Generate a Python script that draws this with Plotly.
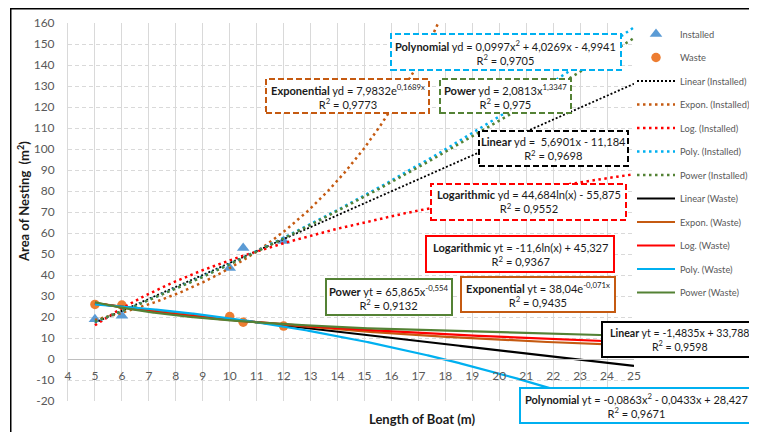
import numpy as np
import plotly.graph_objects as go

# ---------------- data ----------------
boat_length_installed = [5, 6, 10, 10.5, 12]
area_installed = [18.9, 20.6, 43.3, 52.9, 56.2]
boat_length_waste = [5, 6, 10, 10.5, 12]
area_waste = [26.0, 25.7, 20.2, 17.5, 15.7]

x_ticks = list(range(4, 26))
y_ticks = list(range(-20, 161, 10))

# trendline coefficients as printed on the chart
lin_inst = [5.6901, -11.184]
exp_inst = [7.9832, 0.1689]
log_inst = [44.684, -55.875]
poly_inst = [0.0997, 4.0269, -4.9941]
pow_inst = [2.0813, 1.3347]
lin_waste = [-1.4835, 33.788]
exp_waste = [38.04, -0.071]
log_waste = [-11.6, 45.327]
poly_waste = [-0.0863, -0.0433, 28.427]
pow_waste = [65.865, -0.554]
trend_x_range = [5, 25]

eq_texts = [
    "<b>Exponential</b> yd = 7,9832e<sup>0,1689x</sup><br>R<sup>2</sup> = 0,9773",
    "<b>Polynomial</b> yd = 0,0997x<sup>2</sup> + 4,0269x - 4,9941<br>R<sup>2</sup> = 0,9705",
    "<b>Power</b> yd = 2,0813x<sup>1,3347</sup><br>R<sup>2</sup> = 0,975",
    "<b>Linear</b> yd =  5,6901x - 11,184<br>R<sup>2</sup> = 0,9698",
    "<b>Logarithmic</b> yd = 44,684ln(x) - 55,875<br>R<sup>2</sup> = 0,9552",
    "<b>Logarithmic</b> yt = -11,6ln(x) + 45,327<br>R<sup>2</sup> = 0,9367",
    "<b>Power</b> yt = 65,865x<sup>-0,554</sup><br>R<sup>2</sup> = 0,9132",
    "<b>Exponential</b> yt = 38,04e<sup>-0,071x</sup><br>R<sup>2</sup> = 0,9435",
    "<b>Linear</b> yt = -1,4835x + 33,788<br>R<sup>2</sup> = 0,9598",
    "<b>Polynomial</b> yt = -0,0863x<sup>2</sup> - 0,0433x + 28,427<br>R<sup>2</sup> = 0,9671",
]

# ---------------- styling / layout ----------------
# page body adds an 8px offset; the figure is sized so the plot area lands
# on screen at x 68..634, y 23..401
SCR_W, SCR_H = 757, 432
OFF = 8
W, H = SCR_W - OFF, SCR_H - OFF
PL, PR, PT, PB = 68, 634, 23, 401          # plot area on screen
ML, MT = PL - OFF, PT - OFF
MR, MB = SCR_W - PR, SCR_H - PB
PW = PR - PL
PH = PB - PT
FONT = "Lato"

C_BLACK = "#000000"
C_ORANGE = "#C55A11"
C_RED = "#FF0000"
C_BLUE = "#00B0F0"
C_GREEN = "#548235"


def pxx(px):
    return (px - PL) / PW


def pxy(py):
    return (PB - py) / PH


xs = np.linspace(trend_x_range[0], trend_x_range[1], 801)
curves = [
    ("Linear (Installed)", lin_inst[0] * xs + lin_inst[1], C_BLACK, 1.8, "2px,2px"),
    ("Expon. (Installed)", exp_inst[0] * np.exp(exp_inst[1] * xs), C_ORANGE, 2.5, "2.5px,3.5px"),
    ("Log. (Installed)", log_inst[0] * np.log(xs) + log_inst[1], C_RED, 2.5, "2.5px,3.5px"),
    ("Poly. (Installed)", poly_inst[0] * xs**2 + poly_inst[1] * xs + poly_inst[2], C_BLUE, 2.5, "2.5px,3.5px"),
    ("Power (Installed)", pow_inst[0] * xs ** pow_inst[1], C_GREEN, 2.5, "2.5px,3.5px"),
    ("Linear (Waste)", lin_waste[0] * xs + lin_waste[1], C_BLACK, 2.2, "solid"),
    ("Expon. (Waste)", exp_waste[0] * np.exp(exp_waste[1] * xs), C_ORANGE, 2.2, "solid"),
    ("Log. (Waste)", log_waste[0] * np.log(xs) + log_waste[1], C_RED, 2.2, "solid"),
    ("Poly. (Waste)", poly_waste[0] * xs**2 + poly_waste[1] * xs + poly_waste[2], C_BLUE, 2.2, "solid"),
    ("Power (Waste)", pow_waste[0] * xs ** pow_waste[1], C_GREEN, 2.2, "solid"),
]

fig = go.Figure()
fig.add_trace(go.Scatter(
    x=boat_length_installed, y=area_installed, mode="markers", name="Installed",
    legendgroup="g0",
    marker=dict(symbol="triangle-up", size=11, color="#5B9BD5"),
))
fig.add_trace(go.Scatter(
    x=boat_length_waste, y=area_waste, mode="markers", name="Waste",
    legendgroup="g1",
    marker=dict(symbol="circle", size=9.5, color="#ED7D31"),
))
for i, (name, ys, col, w, dash) in enumerate(curves):
    fig.add_trace(go.Scatter(
        x=xs, y=ys, mode="lines", name=name, legendgroup=f"t{i}",
        line=dict(color=col, width=w, dash=dash),
    ))

# equation boxes (screen pixel positions) and label font size
boxes = [
    (266, 79, 429, 113, C_ORANGE, "6px,3px", 11.1),
    (391, 34, 621, 70, C_BLUE, "6px,3px", 11.0),
    (440, 79, 571, 113, C_GREEN, "6px,3px", 11.1),
    (479, 131, 628, 166, C_BLACK, "6px,3px", 11.1),
    (431, 184, 626, 220, C_RED, "6px,3px", 11.1),
    (426, 236, 614, 272, C_RED, "solid", 11.1),
    (326, 279, 452, 315, C_GREEN, "solid", 11.1),
    (461, 277, 615, 312, C_ORANGE, "solid", 11.1),
    (602, 322, 757, 357, C_BLACK, "solid", 10.6),
    (520, 388, 753, 423, C_BLUE, "solid", 11.0),
]
shapes = []
annotations = []
for (x0, y0, x1, y1, col, dash, fs), txt in zip(boxes, eq_texts):
    shapes.append(dict(
        type="rect", xref="paper", yref="paper",
        x0=pxx(x0), x1=pxx(x1), y0=pxy(y1), y1=pxy(y0),
        line=dict(color=col, width=2, dash=dash), fillcolor="white", layer="above",
    ))
    annotations.append(dict(
        xref="paper", yref="paper", x=pxx((x0 + x1) / 2), y=pxy((y0 + y1) / 2),
        xanchor="center", yanchor="middle", showarrow=False, align="center",
        text=txt, font=dict(family=FONT, size=fs, color="#1a1a1a"),
    ))

# outer chart frame (top and left edges visible)
shapes.append(dict(type="line", xref="paper", yref="paper",
                   x0=pxx(10), x1=pxx(770), y0=pxy(8.75), y1=pxy(8.75),
                   line=dict(color="black", width=1.5), layer="above"))
shapes.append(dict(type="line", xref="paper", yref="paper",
                   x0=pxx(10.75), x1=pxx(10.75), y0=pxy(8), y1=pxy(450),
                   line=dict(color="black", width=1.5), layer="above"))

annotations.append(dict(
    xref="paper", yref="paper", x=pxx(422), y=pxy(419), xanchor="center", yanchor="middle",
    showarrow=False, text="<b>Length of Boat (m)</b>",
    font=dict(family=FONT, size=13, color="#1a1a1a"),
))
annotations.append(dict(
    xref="paper", yref="paper", x=pxx(24), y=pxy(202), xanchor="center", yanchor="middle",
    showarrow=False, textangle=-90, text="<b>Area of Nesting  (m<sup>2</sup>)</b>",
    font=dict(family=FONT, size=13, color="#1a1a1a"),
))

fig.update_layout(
    width=W, height=H,
    margin=dict(l=ML, r=MR, t=MT, b=MB, pad=0, autoexpand=False),
    paper_bgcolor="white", plot_bgcolor="white",
    font=dict(family=FONT, size=12, color="#595959"),
    showlegend=True,
    legend=dict(
        x=1.0 - 2 / PW, xanchor="left", y=1.0 + 3.5 / PH, yanchor="top",
        font=dict(family=FONT, size=9.3, color="#595959"),
        itemwidth=38, tracegroupgap=4.5, traceorder="grouped",
        bgcolor="rgba(0,0,0,0)", maxheight=380,
    ),
    xaxis=dict(
        range=[4, 25], tickmode="array", tickvals=x_ticks, ticktext=[str(v) for v in x_ticks],
        showgrid=True, gridcolor="#d9d9d9", gridwidth=1,
        anchor="free", position=20 / 180,
        showline=True, linecolor="#bfbfbf", linewidth=1,
        zeroline=False, ticks="", ticklabelstandoff=6,
        tickfont=dict(family=FONT, size=12, color="#595959"),
    ),
    yaxis=dict(
        range=[-20, 160], tickmode="array", tickvals=y_ticks, ticktext=[str(v) for v in y_ticks],
        showgrid=True, gridcolor="#d9d9d9", gridwidth=1, griddash="4px,3px",
        showline=True, linecolor="#d9d9d9", linewidth=1,
        zeroline=False, ticks="", ticklabelstandoff=10,
        tickfont=dict(family=FONT, size=12, color="#595959"),
    ),
    shapes=shapes,
    annotations=annotations,
)

fig.write_html("out.html")
